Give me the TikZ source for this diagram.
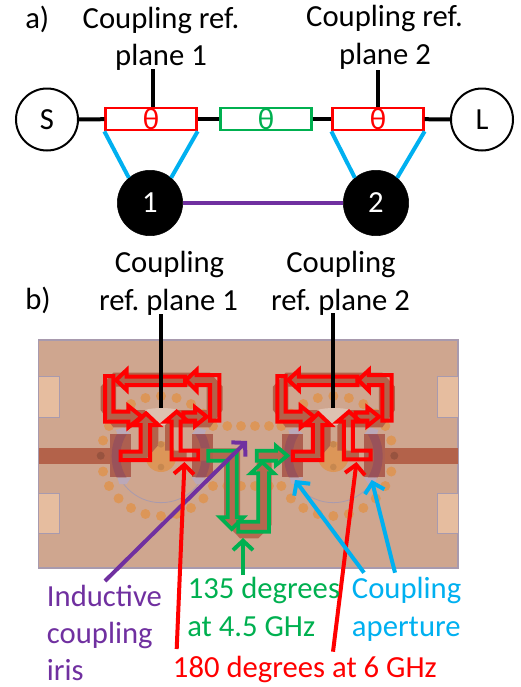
\documentclass[tikz,border=0pt]{standalone}
\usepackage{fontspec}
\setmainfont{Carlito}
\usetikzlibrary{arrows.meta}
\frenchspacing
\definecolor{cred}{HTML}{FF0000}
\definecolor{cgreen}{HTML}{00B050}
\definecolor{cblue}{HTML}{00B0F0}
\definecolor{cpurple}{HTML}{7030A0}
\definecolor{board}{HTML}{CFA68F}
\definecolor{edgec}{HTML}{A89AAE}
\definecolor{pad}{HTML}{E6BD9F}
\definecolor{copper}{HTML}{B3624A}
\definecolor{block}{HTML}{AD5F50}
\definecolor{viac}{HTML}{DC9658}
\definecolor{arcc}{HTML}{99525A}
\definecolor{lilac}{HTML}{BBA8B8}
\newcommand{\viadot}[1]{\fill[viac] (393,378) +(#1:180) circle (15);}
\newcommand{\resonator}{%
  \draw[edgec,line width=.6pt] (393,378) circle (140);
  \fill[lilac] (258,300) -- (282,292) -- (303,313) -- (262,313) -- cycle;
  \fill[lilac] (262,442) -- (303,442) -- (290,462) -- (268,462) -- cycle;
  \fill[lilac] (528,300) -- (504,292) -- (485,313) -- (524,313) -- cycle;
  \fill[lilac] (524,442) -- (485,442) -- (498,462) -- (518,462) -- cycle;
  \fill[block] (240,313) rectangle (303,442);
  \fill[block] (485,313) rectangle (548,442);
  \begin{scope}
    \clip (240,313) rectangle (303,442) (485,313) rectangle (548,442);
    \fill[arcc,even odd rule] (393,378) circle (148) (393,378) circle (122);
  \end{scope}
  \fill[viac] (393,380) circle (46);
  \fill[copper] (212,170) -- (250,128) -- (540,128) -- (578,170) -- (578,240) -- (540,292)
    -- (440,292) -- (425,292) -- (425,390) -- (470,390) -- (470,362) -- (405,362)
    -- (405,285) -- (445,240) -- (530,240) -- (530,170) -- (258,170) -- (258,240)
    -- (345,240) -- (385,285) -- (385,345) -- (350,385) -- (272,390) -- (272,362)
    -- (330,362) -- (330,292) -- (250,292) -- (212,240) -- cycle;
  \fill[viac!90!black] (393,343) circle (10);
  \fill[viac!90!black] (393,411) circle (10);
  \fill[board!70!white] (345,240) .. controls (370,232) and (420,232) .. (445,240) -- (405,285) -- (385,285) -- cycle;
  \draw[redarrow] (290,140) -- (465,140) -- (465,165) -- (290,165) -- (290,180) -- (258,150) -- (290,120) -- cycle;
  \draw[redarrow] (540,272) -- (568,272) -- (568,135) -- (500,135) -- (500,120) -- (468,150) -- (500,182) -- (500,165) -- (540,165) -- cycle;
  \draw[redarrow] (225,138) -- (250,138) -- (250,245) -- (295,245) -- (295,228) -- (335,260) -- (295,292) -- (295,275) -- (225,275) -- cycle;
  \draw[redarrow] (272,365) -- (332,365) -- (332,285) -- (312,285) -- (348,250) -- (385,285) -- (360,285) -- (360,390) -- (272,390) -- cycle;
  \draw[redarrow] (505,388) -- (425,388) -- (425,275) -- (405,275) -- (440,245) -- (475,275) -- (452,275) -- (452,362) -- (505,362) -- cycle;
  \draw[redarrow] (460,248) -- (495,248) -- (495,232) -- (530,260) -- (495,288) -- (495,272) -- (460,272) -- cycle;
}
\tikzset{
  txt/.style={font=\fontsize{23}{23}\selectfont,inner sep=0pt},
  lab/.style={txt,anchor=base west},
  clab/.style={txt,anchor=base},
  term/.style={circle,draw=black,line width=1.5pt,fill=white,minimum size=46.5pt,inner sep=0pt,font=\fontsize{23}{23}\selectfont},
  reso/.style={circle,draw=black,fill=black,text=white,minimum size=49pt,inner sep=0pt,font=\fontsize{23}{23}\selectfont},
  line/.style={rectangle,draw=#1,text=#1,line width=2pt,fill=white,minimum width=68pt,minimum height=16.5pt,inner sep=0pt,font=\fontsize{23}{20}\selectfont},
  wire/.style={black,line width=3pt},
  aper/.style={cblue,line width=3pt},
  redarrow/.style={cred,line width=3pt,line join=miter},
  greenarrow/.style={cgreen,line width=2.8pt,line join=miter},
  call/.style={line width=3pt,-{Straight Barb[length=7pt,width=15pt,line width=3pt]}},
}
\begin{document}
\begin{tikzpicture}[x=.75pt,y=-.75pt]
\useasboundingbox (0,0) rectangle (521,687);
% part a
\node[lab] (la) at (25,28) {a)};
\node[clab] (t1a) at (161,28.7) {Coupling ref.};
\node[clab] (t1b) at (161,65.7) {plane 1};
\node[clab] (t2a) at (384.5,26.7) {Coupling ref.};
\node[clab] (t2b) at (385,64) {plane 2};
\node[term] (S) at (47,119.5) {S};
\node[term] (L) at (482,119.5) {L};
\node[line=cred] (r1) at (151,119) {θ};
\node[line=cgreen] (g) at (266,119) {θ};
\node[line=cred] (r2) at (378,119) {θ};
\node[reso] (n1) at (150,203) {1};
\node[reso] (n2) at (376,203) {2};
\coordinate (p1) at (152.5,69);
\coordinate (p2) at (378,70);
\draw[wire] (S) -- (r1);
\draw[wire] (r1) -- (g);
\draw[wire] (g) -- (r2);
\draw[wire] (r2) -- (L);
\draw[wire] (p1) -- (p1 |- r1.north);
\draw[wire] (p2) -- (p2 |- r2.north);
\draw[aper] (r1.south west) -- (n1.130);
\draw[aper] (r1.south east) -- (n1.50);
\draw[aper] (r2.south west) -- (n2.130);
\draw[aper] (r2.south east) -- (n2.50);
\draw[cpurple,line width=2.5pt] (n1) -- (n2);
% part b labels
\node[lab] (lb) at (25,309) {b)};
\node[clab] (t3a) at (169.5,272.7) {Coupling};
\node[clab] (t3b) at (168.5,310) {ref. plane 1};
\node[clab] (t4a) at (341,272.7) {Coupling};
\node[clab] (t4b) at (340.5,310) {ref. plane 2};
% board
\fill[board] (38.5,340) rectangle (458,568);
\draw[edgec,line width=.8pt] (38.5,340) rectangle (458,568);
\foreach \yy in {376.7,493.3}{
  \draw[edgec,line width=.6pt,fill=pad] (38.5,\yy) rectangle (59.5,\yy+40.5);
  \draw[edgec,line width=.6pt,fill=pad] (458,\yy) rectangle (437.7,\yy+40.5);
}
\fill[copper] (38.5,447.5) rectangle (112,464);
\fill[copper] (385,447.5) rectangle (458,464);
\fill[copper!85!black] (100.7,455.7) circle (4);
\fill[copper!85!black] (394.3,455.7) circle (4);
% vias
\foreach \vx in {227.3,241,255,269}{
  \fill[viac] (\vx,426) circle (3.7pt);
  \fill[viac] (\vx,486) circle (3.7pt);
}
\begin{scope}[shift={(30,330)},x=.25pt,y=-.25pt]
  \foreach \aa in {30,45,...,150,210,225,...,330}{\viadot{\aa}}
  \viadot{165}\viadot{195}
  \resonator
\end{scope}
\begin{scope}[shift={(202.33,330)},x=.25pt,y=-.25pt]
  \foreach \aa in {30,45,...,150,210,225,...,330}{\viadot{\aa}}
  \viadot{15}\viadot{345}
  \resonator
\end{scope}
% meander
\begin{scope}[shift={(200,430)},x=.25pt,y=-.25pt]
  \fill[copper,fill opacity=.9] (0,55) -- (120,55) -- (120,270) -- (170,270) -- (170,58) -- (250,58) -- (250,92) -- (215,92) -- (215,285) -- (175,325) -- (120,325) -- (72,275) -- (72,92) -- (0,92) -- cycle;
  \draw[greenarrow] (25,62) -- (110,62) -- (110,262) -- (130,262) -- (95,297) -- (60,262) -- (83,262) -- (83,92) -- (25,92) -- cycle;
  \draw[greenarrow] (115,275) -- (175,275) -- (175,130) -- (152,130) -- (187,97) -- (222,130) -- (207,130) -- (207,305) -- (115,305) -- cycle;
  \draw[greenarrow] (170,62) -- (228,62) -- (228,48) -- (262,77) -- (228,105) -- (228,92) -- (170,92) -- cycle;
\end{scope}
% reference lines
\coordinate (q1a) at (161,314);
\coordinate (q1b) at (161,408);
\coordinate (q2a) at (333.3,313);
\coordinate (q2b) at (333.3,408);
\draw[wire] (q1a) -- (q1b);
\draw[wire] (q2a) -- (q2b);
% callouts
\coordinate (pa) at (105,581); \coordinate (pb) at (247,441);
\coordinate (ra) at (176.7,649); \coordinate (rb) at (184.5,462);
\coordinate (rc) at (333,651.7); \coordinate (rd) at (356.5,462);
\coordinate (ga) at (243,575); \coordinate (gb) at (243,538);
\coordinate (ba) at (364,572.7); \coordinate (bb) at (295,480);
\coordinate (bc) at (395,572.7); \coordinate (bd) at (371.7,480);
\draw[call,cpurple] (pa) -- (pb);
\draw[call,cred] (ra) -- (rb);
\draw[call,cred] (rc) -- (rd);
\draw[call,cgreen] (ga) -- (gb);
\draw[call,cblue] (ba) -- (bb);
\draw[call,cblue] (bc) -- (bd);
% texts
\node[lab,text=cpurple] (i1) at (46.7,606.7) {Inductive};
\node[lab,text=cpurple] (i2) at (46.7,643.5) {coupling};
\node[lab,text=cpurple] (i3) at (46.7,680.5) {iris};
\node[lab,text=cgreen] (d1) at (187.5,598) {135 degrees};
\node[lab,text=cgreen] (d2) at (187,636) {at 4.5 GHz};
\node[lab,text=cblue] (c1) at (351.7,598) {Coupling};
\node[lab,text=cblue] (c2) at (351.7,636.5) {aperture};
\node[lab,text=cred] (e1) at (172.7,677) {180 degrees at 6 GHz};
\end{tikzpicture}
\end{document}
